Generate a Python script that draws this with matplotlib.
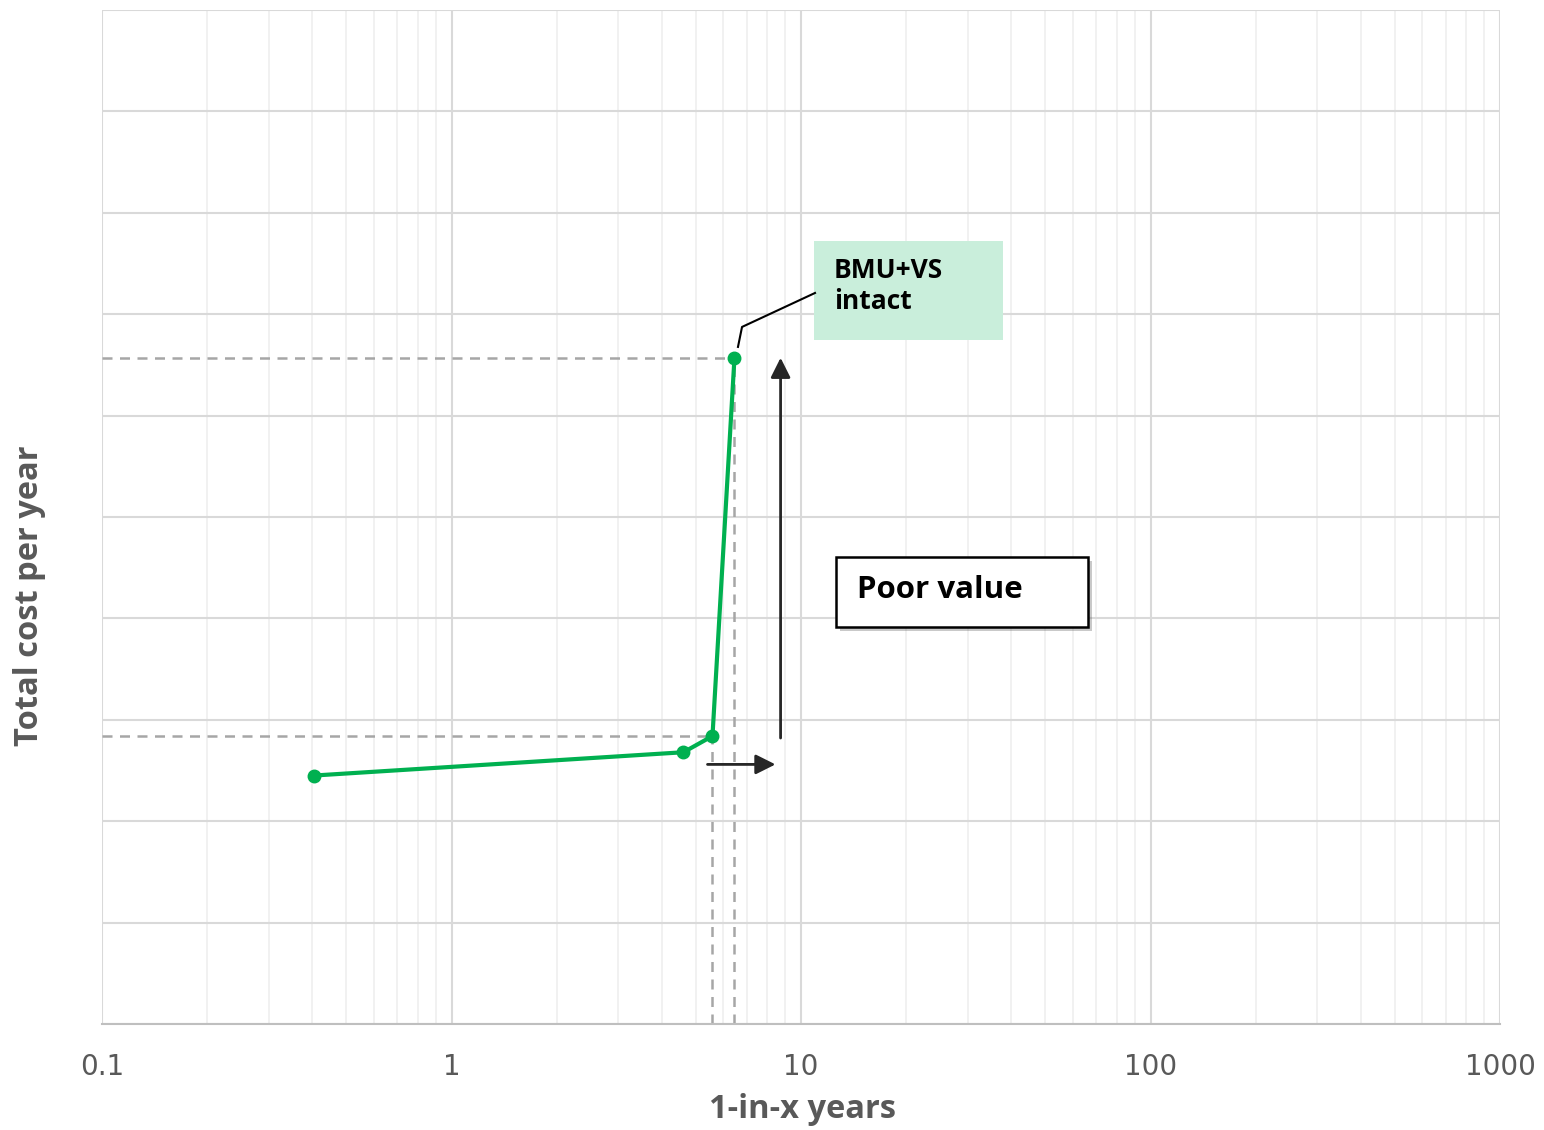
import matplotlib.pyplot as plt
from matplotlib.patches import Rectangle
import matplotlib.patheffects as pe

# data
return_period = [0.403, 4.61, 5.58, 6.45]   # 1-in-x years
total_cost = [2.45, 2.68, 2.84, 6.57]       # arbitrary units, no y labels
x_ticks = [0.1, 1, 10, 100, 1000]
x_tick_labels = ['0.1', '1', '10', '100', '1000']

green = '#00b050'
grey_dash = '#a6a6a6'
label_grey = '#595959'

fig = plt.figure(figsize=(15.44, 11.3), dpi=100)
ax = fig.add_axes([0.0661, 0.0938, 0.9054, 0.8974])

ax.set_xscale('log')
ax.set_xlim(0.1, 1000)
ax.set_ylim(0, 10)

# grid
ax.set_yticks(range(0, 11))
ax.set_yticklabels([])
ax.tick_params(axis='y', length=0)
ax.set_xticks(x_ticks)
ax.set_xticklabels(x_tick_labels, fontsize=20, color=label_grey, family='DejaVu Sans')
ax.tick_params(axis='x', which='both', length=0, pad=21)
ax.grid(which='major', color='#d9d9d9', linewidth=1.5)
ax.grid(which='minor', axis='x', color='#efefef', linewidth=1.2)
ax.set_axisbelow(True)
for s in ['top', 'right', 'left']:
    ax.spines[s].set_visible(False)
ax.spines['bottom'].set_color('#bfbfbf')
ax.spines['bottom'].set_linewidth(1.5)

# dashed guide lines to the two key points
for xi, yi in [(return_period[2], total_cost[2]), (return_period[3], total_cost[3])]:
    ax.plot([0.1, xi], [yi, yi], color=grey_dash, lw=1.8, dashes=(4, 3), zorder=2)
    ax.plot([xi, xi], [0, yi], color=grey_dash, lw=1.8, dashes=(4, 3), zorder=2)

ax.plot(return_period, total_cost, color=green, lw=3, marker='o', ms=9, zorder=4)

# arrows
arrow_kw = dict(arrowstyle='-|>', color='#262626', lw=2, mutation_scale=30,
                shrinkA=0, shrinkB=0)
ax.annotate('', xy=(8.45, 2.56), xytext=(5.40, 2.56), arrowprops=arrow_kw)
ax.annotate('', xy=(8.74, 6.57), xytext=(8.74, 2.82), arrowprops=arrow_kw)

# label for top point (green box + leader line)
ax.add_patch(Rectangle((0.5093, 0.6746), 0.1352, 0.0976, transform=ax.transAxes,
                       fc='#c9eedb', ec='none', zorder=5))
ax.plot([0.4549, 0.4578, 0.5100], [0.6677, 0.6874, 0.7209], transform=ax.transAxes,
        color='black', lw=1.5, zorder=5)
ax.text(0.5236, 0.7278, 'BMU+VS\nintact', transform=ax.transAxes, fontsize=19,
        fontweight='bold', family='Open Sans', va='center', ha='left',
        linespacing=1.15, zorder=6)

# poor value box
ax.add_patch(Rectangle((0.525, 0.3915), 0.1803, 0.069, transform=ax.transAxes,
                       fc='white', ec='black', lw=1.8, zorder=6,
                       path_effects=[pe.withSimplePatchShadow(offset=(3, -3), alpha=0.3)]))
ax.text(0.540, 0.428, 'Poor value', transform=ax.transAxes, fontsize=22.5,
        fontweight='bold', family='Open Sans', va='center', ha='left', zorder=7)

fig.text(0.520, 0.0177, '1-in-x years', fontsize=23.5, fontweight='bold',
         color=label_grey, family='Open Sans', ha='center', va='center')
fig.text(0.0194, 0.4726, 'Total cost per year', fontsize=23.5, fontweight='bold',
         color=label_grey, family='Open Sans', ha='center', va='center', rotation=90)

fig.savefig('out.png', dpi=100)
